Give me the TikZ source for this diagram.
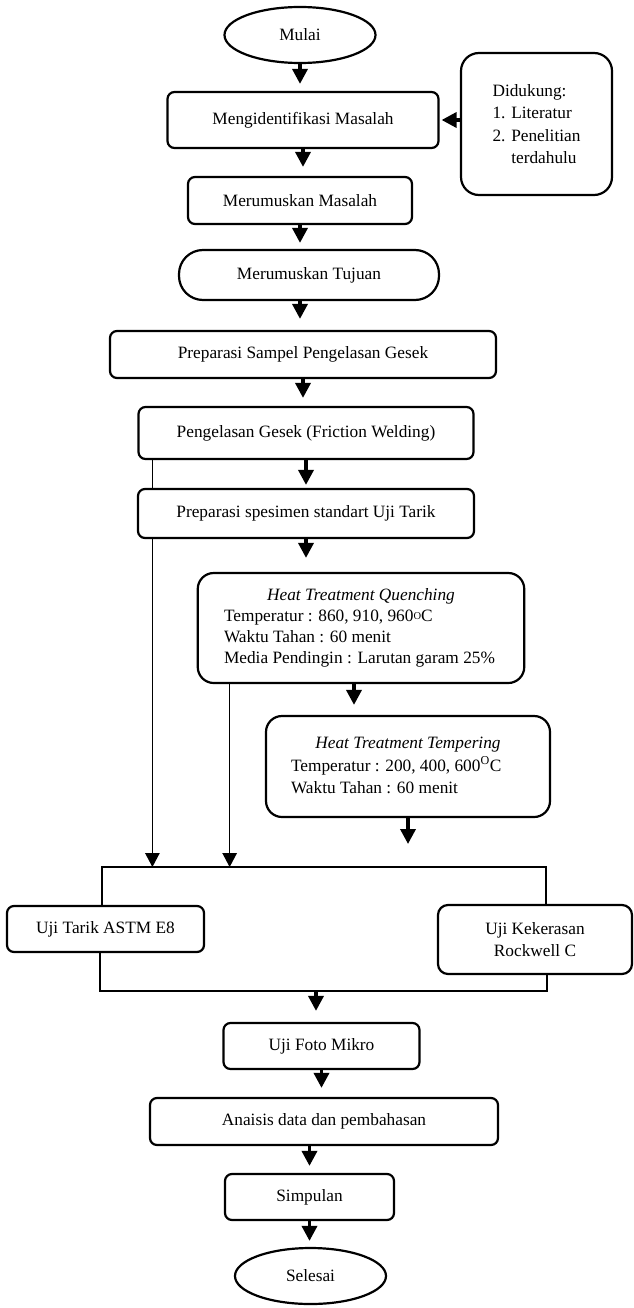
\documentclass[tikz,border=0pt]{standalone}
\usepackage{fontspec}
\setmainfont{Liberation Serif}
\usetikzlibrary{shapes.geometric,arrows.meta,backgrounds}
\begin{document}
\begin{tikzpicture}[x=1pt, y=-1pt,
  every node/.style={font=\fontsize{17.3}{22.5}\selectfont},
  box/.style={draw, line width=2.2pt, rounded corners=7pt, fill=white, align=center, inner sep=0pt},
  oval/.style={draw, ellipse, line width=2.2pt, fill=white, inner sep=0pt},
  arr/.style={line width=3.5pt, -{Triangle[length=15pt,width=15pt]}, shorten >=7pt},
  tline/.style={line width=1.3pt},
  tarr/.style={line width=1.3pt, -{Triangle[length=14pt,width=14.5pt]}}]
\begin{scope}[on background layer]
\path[use as bounding box, fill=white] (0,0) rectangle (632,1308);
\end{scope}
% main flow
\node[oval, minimum width=151pt, minimum height=56pt] (mulai) at (300,35) {Mulai};
\node[box, minimum width=271pt, minimum height=56pt] (ident) at (303,120) {Mengidentifikasi Masalah};
\node[box, rounded corners=18pt, minimum width=151pt, minimum height=142pt, align=left] (dukung) at (536.5,124) {Didukung:\\1. Literatur\\2. Penelitian\\\phantom{2. }terdahulu};
\node[box, minimum width=224pt, minimum height=47pt] (rumus) at (300,200.5) {Merumuskan Masalah};
\node[box, rounded corners=24pt, minimum width=260pt, minimum height=50pt] (tujuan) at (309,275) {Merumuskan Tujuan};
\node[box, minimum width=386pt, minimum height=47pt] (sampel) at (303,354.5) {Preparasi Sampel Pengelasan Gesek};
\node[box, minimum width=335pt, minimum height=52pt] (las) at (306,433) {Pengelasan Gesek (Friction Welding)};
\node[box, minimum width=336pt, minimum height=49pt] (spesimen) at (306,513.5) {Preparasi spesimen standart Uji Tarik};
% heat treatment
\node[box, rounded corners=16pt, minimum width=326.5pt, minimum height=110pt] (quench) at (361,628)
  {\fontsize{17.3}{21}\selectfont\begin{tabular}{@{}p{274pt}@{}}
   \multicolumn{1}{@{}c@{}}{\itshape Heat Treatment Quenching}\\
   Temperatur : 860, 910, 960\raisebox{.3ex}{\fontsize{10.5}{10}\selectfont O}C\\
   Waktu Tahan : 60 menit\\
   Media Pendingin : Larutan garam 25\%
   \end{tabular}};
\node[box, rounded corners=16pt, minimum width=284pt, minimum height=101pt] (temper) at (408,766.5)
  {\fontsize{17.3}{22.5}\selectfont\begin{tabular}{@{}p{234pt}@{}}
   \multicolumn{1}{@{}c@{}}{\itshape Heat Treatment Tempering}\\
   Temperatur : 200, 400, 600\textsuperscript{O}C\\
   Waktu Tahan : 60 menit
   \end{tabular}};
% tests
\node[box, minimum width=197pt, minimum height=46pt] (tarik) at (105.5,929) {Uji Tarik ASTM E8};
\node[box, rounded corners=10pt, minimum width=194pt, minimum height=69pt, font=\fontsize{17.3}{21.5}\selectfont] (keras) at (535,939.5) {Uji Kekerasan\\Rockwell C};
\node[box, minimum width=196pt, minimum height=46pt] (foto) at (321.5,1046) {Uji Foto Mikro};
\node[box, minimum width=348pt, minimum height=47pt] (anal) at (324,1121.5) {Anaisis data dan pembahasan};
\node[box, minimum width=169pt, minimum height=46pt] (simpul) at (309.5,1197) {Simpulan};
\node[oval, minimum width=151pt, minimum height=56pt] (selesai) at (310.5,1276) {Selesai};
% bracket round the tests
\coordinate (tl) at (102,867);
\coordinate (tr) at (546,867);
\coordinate (bl) at (100,991);
\coordinate (br) at (547,991);
\coordinate (fin) at (316,991);
\coordinate (tend) at (408,844);
\coordinate (qa) at ([xshift=-7pt]quench.south);
\coordinate (la) at ([xshift=15pt]las.south west);
\coordinate (qb) at ([xshift=33pt]quench.south west);
\draw[tline] (tarik.north -| tl) -- (tl) -- (tr) -- (tr |- keras.north);
\draw[tline] (tarik.south -| bl) -- (bl) -- (br) -- (br |- keras.south);
% arrows
\draw[arr] (mulai.south) -- (mulai.south |- ident.north);
\draw[arr, shorten >=2pt] (dukung.west |- ident) -- (ident.east);
\draw[arr, shorten >=9pt] (ident.south) -- (ident.south |- rumus.north);
\draw[arr, shorten >=6pt] (rumus.south) -- (rumus.south |- tujuan.north);
\draw[arr, shorten >=11pt] (tujuan.south -| rumus.south) -- (rumus.south |- sampel.north);
\draw[arr, shorten >=8pt] (sampel.south) -- (sampel.south |- las.north);
\draw[arr, shorten >=3pt] (las.south) -- (las.south |- spesimen.north);
\draw[arr, shorten >=14pt] (spesimen.south) -- (spesimen.south |- quench.north);
\draw[arr, shorten >=10pt] (qa) -- (qa |- temper.north);
\draw[arr, shorten >=0pt] (temper.south) -- (tend);
\draw[arr, shorten >=11pt] (fin) -- (fin |- foto.north);
\draw[arr, shorten >=9pt] (foto.south) -- (foto.south |- anal.north);
\draw[arr, shorten >=7pt] (anal.south -| simpul) -- (simpul.north);
\draw[arr, shorten >=6pt] (simpul.south) -- (simpul.south |- selesai.north);
\begin{scope}[on background layer]
\draw[tarr] (la) -- (la |- tl);
\draw[tarr] (qb) -- (qb |- tl);
\end{scope}
\end{tikzpicture}
\end{document}
